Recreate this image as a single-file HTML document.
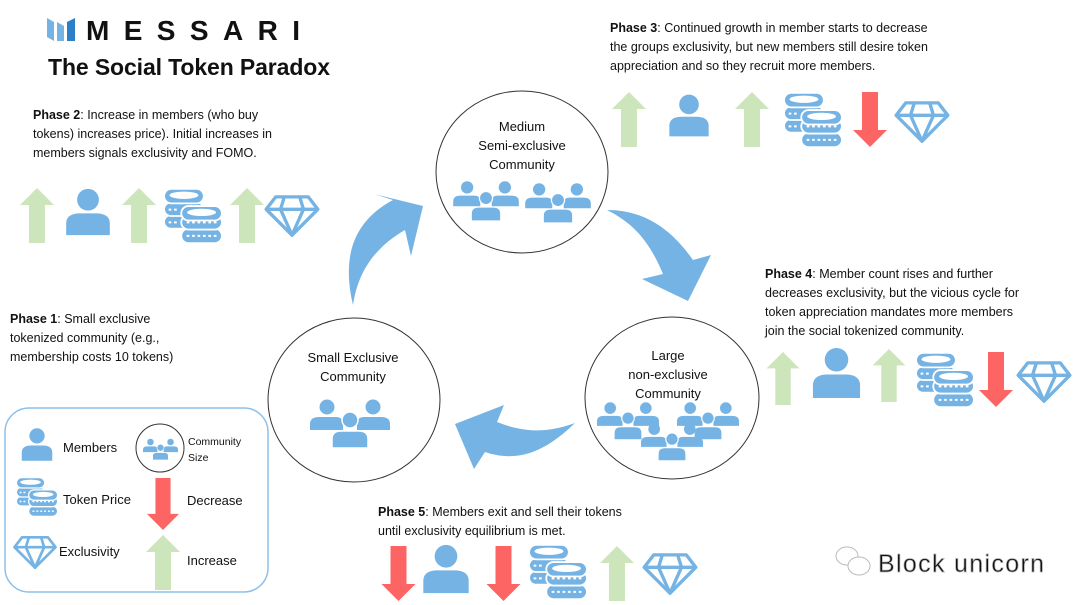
<!DOCTYPE html>
<html><head><meta charset="utf-8"><style>
html,body{margin:0;padding:0;background:#fff;}
svg{display:block;}
text{font-family:"Liberation Sans",sans-serif;fill:#111;}
</style></head><body>
<svg width="1080" height="605" viewBox="0 0 1080 605" xmlns="http://www.w3.org/2000/svg">
<defs>
<symbol id="up" viewBox="0 0 34 55"><polygon points="17,0 34,17 25,17 25,55 9,55 9,17 0,17" fill="#cde5bb"/></symbol>
<symbol id="down" viewBox="0 0 34 55"><polygon points="17,55 34,38 25,38 25,0 9,0 9,38 0,38" fill="#fd6464"/></symbol>
<symbol id="person" viewBox="0 0 50 55"><circle cx="25" cy="14" r="12" fill="#74b3e3"/><path d="M1,53 L1,40 Q1,30 14,29 L36,29 Q49,30 49,40 L49,53 Z" fill="#74b3e3"/></symbol>
<symbol id="coins" viewBox="0 0 66 62">
<g fill="#74b3e3" stroke="#fff" stroke-width="2">
<rect x="1" y="30" width="44" height="15" rx="7.5"/>
<rect x="1" y="16" width="44" height="15" rx="7.5"/>
<rect x="1" y="1" width="44" height="16" rx="8"/>
<rect x="20" y="45" width="45" height="16" rx="8"/>
<rect x="20" y="30" width="45" height="16" rx="8"/>
<rect x="20" y="20" width="45" height="16" rx="8"/>
</g>
<ellipse cx="23" cy="8" rx="16" ry="4" fill="#fff"/>
<ellipse cx="42.5" cy="27" rx="16" ry="4" fill="#fff"/>
<g stroke="#fff" stroke-width="2.2" stroke-dasharray="3,3">
<line x1="6" y1="24" x2="17" y2="24"/><line x1="6" y1="38" x2="17" y2="38"/>
<line x1="26" y1="38" x2="60" y2="38"/><line x1="26" y1="53" x2="60" y2="53"/>
</g>
</symbol>
<symbol id="dia" viewBox="0 0 58 46"><g fill="none" stroke="#74b3e3" stroke-width="3.5" stroke-linejoin="round">
<polygon points="12,3 46,3 56,16 29,43 2,16"/><line x1="2" y1="16" x2="56" y2="16"/>
<polyline points="21,3 17,16 29,43 41,16 37,3"/></g></symbol>
<symbol id="grp" viewBox="0 0 80 50"><g fill="#74b3e3">
<circle cx="17" cy="9" r="7.5"/><path d="M0,32 L0,26 Q0,19 9,19 L26,19 Q33,19 33,26 L33,32Z"/>
<circle cx="63" cy="9" r="7.5"/><path d="M47,32 L47,26 Q47,19 54,19 L71,19 Q80,19 80,26 L80,32Z"/>
<circle cx="40" cy="22" r="8" stroke="#fff" stroke-width="1.5"/><path d="M22,50 L22,41 Q22,33 31,33 L49,33 Q58,33 58,41 L58,50Z" stroke="#fff" stroke-width="1.5"/></g></symbol>
</defs>

<!-- Logo -->
<g fill="#74b3e3"><polygon points="47,18 54,22 54,41 47,37"/><polygon points="57,22 64,26 64,41 57,41"/><polygon points="67,22 75,18 75,41 67,41" fill="#2b7fc9"/></g>
<text x="86" y="40" font-size="28" font-weight="bold" textLength="214" lengthAdjust="spacing">MESSARI</text>
<text x="48" y="75" font-size="23" font-weight="bold" textLength="282">The Social Token Paradox</text>

<!-- Phase 2 -->
<g font-size="12.5">
<text x="33" y="119"><tspan font-weight="bold">Phase 2</tspan>: Increase in members (who buy</text>
<text x="33" y="138">tokens) increases price). Initial increases in</text>
<text x="33" y="157">members signals exclusivity and FOMO.</text>
</g>
<use href="#up" x="20" y="188" width="34" height="55"/>
<use href="#person" x="63" y="187" width="50" height="50"/>
<use href="#up" x="122" y="188" width="34" height="55"/>
<use href="#coins" x="160" y="188" width="66" height="56"/>
<use href="#up" x="230" y="188" width="34" height="55"/>
<use href="#dia" x="263" y="194" width="58" height="44"/>

<!-- Phase 3 -->
<g font-size="12.5">
<text x="610" y="32"><tspan font-weight="bold">Phase 3</tspan>: Continued growth in member starts to decrease</text>
<text x="610" y="51">the groups exclusivity, but new members still desire token</text>
<text x="610" y="70">appreciation and so they recruit more members.</text>
</g>
<use href="#up" x="612" y="92" width="34" height="55"/>
<use href="#person" x="664" y="93" width="50" height="45"/>
<use href="#up" x="735" y="92" width="34" height="55"/>
<use href="#coins" x="780" y="92" width="66" height="56"/>
<use href="#down" x="852" y="92" width="36" height="55"/>
<use href="#dia" x="893" y="100" width="58" height="44"/>

<!-- Phase 4 -->
<g font-size="12.5">
<text x="765" y="278"><tspan font-weight="bold">Phase 4</tspan>: Member count rises and further</text>
<text x="765" y="297">decreases exclusivity, but the vicious cycle for</text>
<text x="765" y="316">token appreciation mandates more members</text>
<text x="765" y="335">join the social tokenized community.</text>
</g>
<use href="#up" x="766" y="352" width="34" height="53"/>
<use href="#person" x="811" y="346" width="51" height="54"/>
<use href="#up" x="872" y="349" width="34" height="53"/>
<use href="#coins" x="912" y="352" width="66" height="56"/>
<use href="#down" x="978" y="352" width="36" height="55"/>
<use href="#dia" x="1015" y="360" width="58" height="44"/>

<!-- Phase 1 -->
<g font-size="12.5">
<text x="10" y="323"><tspan font-weight="bold">Phase 1</tspan>: Small exclusive</text>
<text x="10" y="342">tokenized community (e.g.,</text>
<text x="10" y="361">membership costs 10 tokens)</text>
</g>

<!-- Legend -->
<rect x="5" y="408" width="263" height="184" rx="24" fill="none" stroke="#8cc0ea" stroke-width="1.5"/>
<use href="#person" x="20" y="427" width="34" height="35"/>
<text x="63" y="452" font-size="13">Members</text>
<circle cx="160" cy="448" r="24" fill="none" stroke="#333" stroke-width="1"/>
<use href="#grp" x="143" y="438" width="35" height="22"/>
<text x="188" y="445" font-size="10.5">Community</text>
<text x="188" y="461" font-size="10.5">Size</text>
<use href="#coins" x="15" y="477" width="44" height="40"/>
<text x="63" y="504" font-size="13">Token Price</text>
<use href="#down" x="145" y="478" width="36" height="52"/>
<text x="187" y="505" font-size="13">Decrease</text>
<use href="#dia" x="12" y="535" width="46" height="35"/>
<text x="59" y="556" font-size="13">Exclusivity</text>
<use href="#up" x="145" y="535" width="36" height="55"/>
<text x="187" y="565" font-size="13">Increase</text>

<!-- Circles -->
<ellipse cx="522" cy="172" rx="86" ry="81" fill="none" stroke="#333" stroke-width="1"/>
<g font-size="13" text-anchor="middle">
<text x="522" y="131">Medium</text>
<text x="522" y="150">Semi-exclusive</text>
<text x="522" y="169">Community</text>
</g>
<use href="#grp" x="453" y="180" width="66" height="41"/>
<use href="#grp" x="525" y="182" width="66" height="41"/>

<ellipse cx="354" cy="400" rx="86" ry="82" fill="none" stroke="#333" stroke-width="1"/>
<g font-size="13" text-anchor="middle">
<text x="353" y="362">Small Exclusive</text>
<text x="353" y="381">Community</text>
</g>
<use href="#grp" x="310" y="398" width="80" height="50"/>

<ellipse cx="672" cy="398" rx="87" ry="81" fill="none" stroke="#333" stroke-width="1"/>
<g font-size="13" text-anchor="middle">
<text x="668" y="360">Large</text>
<text x="668" y="379">non-exclusive</text>
<text x="668" y="398">Community</text>
</g>
<use href="#grp" x="597" y="401" width="62" height="39"/>
<use href="#grp" x="677" y="401" width="62" height="39"/>
<use href="#grp" x="641" y="422" width="62" height="39"/>

<!-- Curved arrows -->
<g fill="#74b3e3">
<path d="M353,305 C342,258 352,222 393,200 L374,194 L423,206 L411,256 L405,230 C374,248 358,272 353,305 Z"/>
<path d="M607,210 C648,210 674,233 693,260 L711,255 L688,301 L642,279 L663,274 C650,243 635,224 607,210 Z"/>
<path d="M575,423 C545,452 518,463 485,452 L474,469 L455,424 L504,405 L497,422 C527,434 550,432 575,423 Z"/>
</g>

<!-- Phase 5 -->
<g font-size="12.5">
<text x="378" y="516"><tspan font-weight="bold">Phase 5</tspan>: Members exit and sell their tokens</text>
<text x="378" y="535">until exclusivity equilibrium is met.</text>
</g>
<use href="#down" x="381" y="546" width="35" height="55"/>
<use href="#person" x="421" y="543" width="50" height="52"/>
<use href="#down" x="486" y="546" width="35" height="55"/>
<use href="#coins" x="525" y="544" width="66" height="56"/>
<use href="#up" x="600" y="546" width="34" height="55"/>
<use href="#dia" x="641" y="552" width="58" height="44"/>

<!-- Watermark -->
<g fill="#fff" stroke="#bbb" stroke-width="1">
<ellipse cx="847" cy="556" rx="11" ry="9"/><ellipse cx="859" cy="566" rx="11" ry="9"/>
</g>
<text x="878" y="572" font-size="25" fill="#fff" stroke="#b5b5b5" stroke-width="0.7" textLength="166">Block unicorn</text>
</svg>
</body></html>
